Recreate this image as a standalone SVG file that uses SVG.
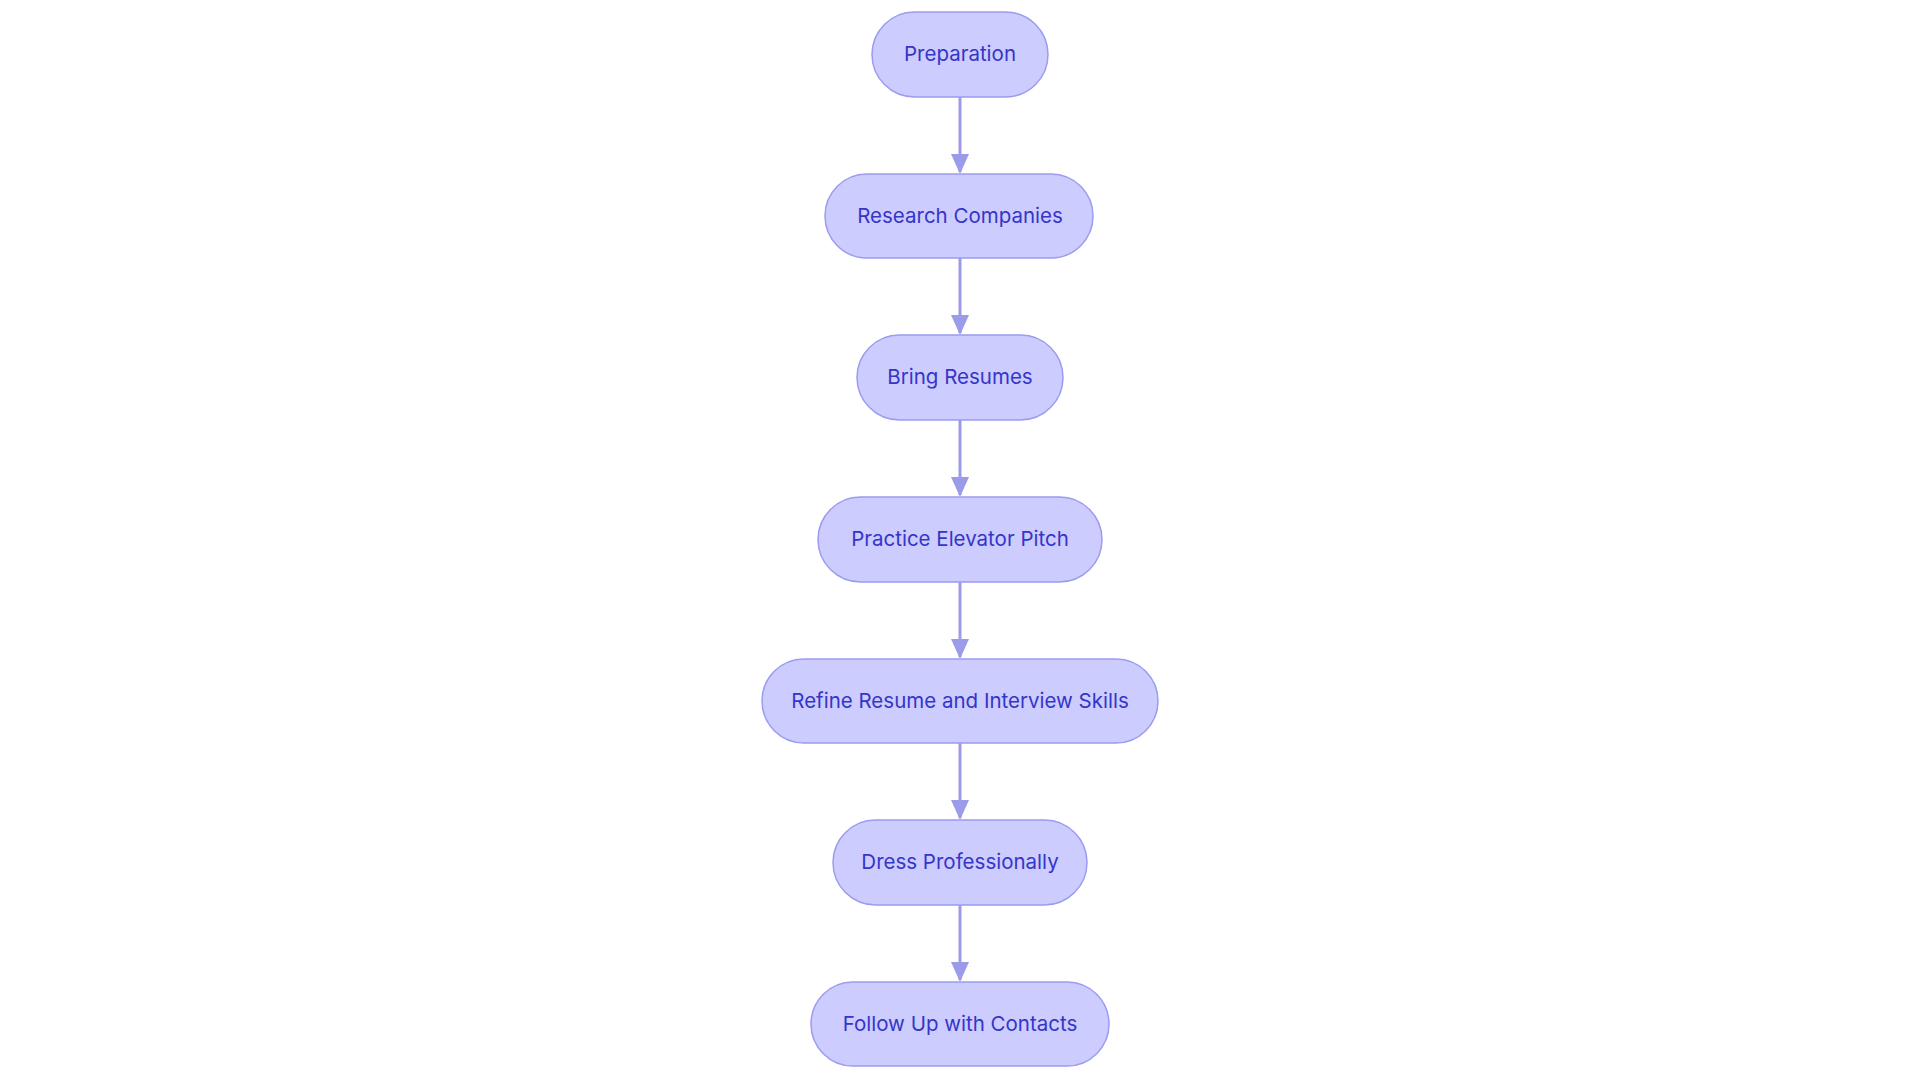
<svg xmlns="http://www.w3.org/2000/svg" width="1920" height="1083" viewBox="0 0 1920 1083">
<style>
.n rect{fill:#ccccff;stroke:#9b9bf0;stroke-width:1.5}
.n text{font-family:Inter,"Noto Sans",sans-serif;font-size:20.5px;fill:#3535c8;text-anchor:middle;dominant-baseline:central}
.e line{stroke:#9b9bea;stroke-width:3}
.e path{fill:#9b9bea}
</style>
<rect width="1920" height="1083" fill="#fff"/>
<g id="connectors" class="e">
<line x1="960" y1="97" x2="960" y2="172"/><path d="M951,154L960,174L969,154z"/>
<line x1="960" y1="258" x2="960" y2="333"/><path d="M951,315L960,335L969,315z"/>
<line x1="960" y1="420" x2="960" y2="495"/><path d="M951,477L960,497L969,477z"/>
<line x1="960" y1="582" x2="960" y2="657"/><path d="M951,639L960,659L969,639z"/>
<line x1="960" y1="743" x2="960" y2="818"/><path d="M951,800L960,820L969,800z"/>
<line x1="960" y1="905" x2="960" y2="980"/><path d="M951,962L960,982L969,962z"/>
</g>
<g id="n1" class="n"><rect x="872" y="12" width="176" height="85" rx="42.5"/><text x="960" y="53">Preparation</text></g>
<g id="n2" class="n"><rect x="825" y="174" width="268" height="84" rx="42"/><text x="960" y="215">Research Companies</text></g>
<g id="n3" class="n"><rect x="857" y="335" width="206" height="85" rx="42.5"/><text x="960" y="376">Bring Resumes</text></g>
<g id="n4" class="n"><rect x="818" y="497" width="284" height="85" rx="42.5"/><text x="960" y="538">Practice Elevator Pitch</text></g>
<g id="n5" class="n"><rect x="762" y="659" width="396" height="84" rx="42"/><text x="960" y="700">Refine Resume and Interview Skills</text></g>
<g id="n6" class="n"><rect x="833" y="820" width="254" height="85" rx="42.5"/><text x="960" y="861">Dress Professionally</text></g>
<g id="n7" class="n"><rect x="811" y="982" width="298" height="84" rx="42"/><text x="960" y="1023">Follow Up with Contacts</text></g>
</svg>
